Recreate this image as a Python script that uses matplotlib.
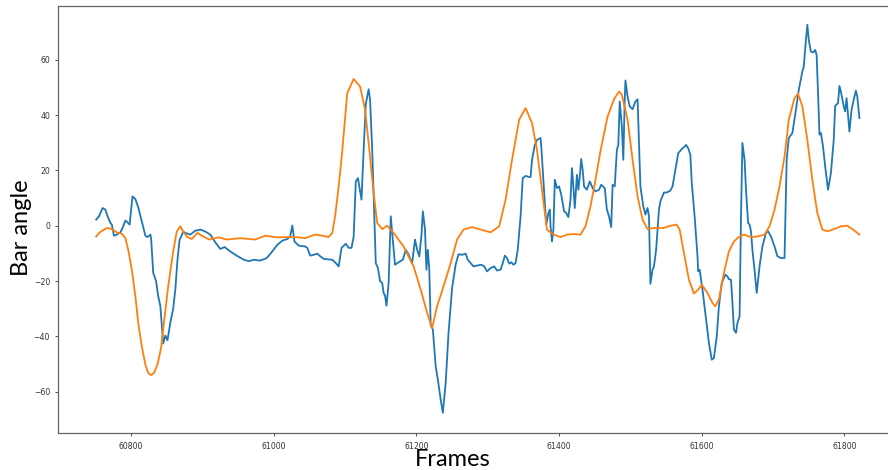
import numpy as np
import matplotlib.pyplot as plt

# raw bar angle (blue)
raw_frames = [60751, 60755, 60760, 60764, 60767, 60771, 60773, 60776, 60780, 60785,
              60788, 60792, 60795, 60798, 60800, 60802, 60806, 60810, 60815, 60820,
              60823, 60827, 60828, 60831, 60835, 60838, 60841, 60843, 60845, 60848,
              60851, 60855, 60859, 60862, 60865, 60868, 60870, 60873, 60876, 60883,
              60890, 60897, 60904, 60911, 60918, 60925, 60931, 60939, 60948, 60958,
              60965, 60972, 60981, 60990, 60997, 61005, 61012, 61019, 61023, 61026,
              61029, 61035, 61044, 61047, 61051, 61056, 61061, 61065, 61070, 61082,
              61087, 61091, 61095, 61101, 61105, 61109, 61112, 61115, 61118, 61121,
              61123, 61126, 61129, 61133, 61135, 61138, 61141, 61143, 61146, 61149,
              61152, 61154, 61156, 61158, 61161, 61164, 61166, 61170, 61175, 61181,
              61185, 61188, 61192, 61194, 61198, 61201, 61204, 61207, 61209, 61212,
              61214, 61216, 61218, 61220, 61223, 61227, 61230, 61234, 61237, 61241,
              61245, 61250, 61255, 61259, 61264, 61269, 61272, 61276, 61280, 61285,
              61291, 61295, 61299, 61304, 61309, 61313, 61318, 61321, 61324, 61327,
              61330, 61333, 61336, 61339, 61342, 61346, 61349, 61353, 61358, 61360,
              61362, 61366, 61369, 61374, 61375, 61377, 61380, 61382, 61385, 61387,
              61388, 61390, 61392, 61394, 61397, 61400, 61403, 61407, 61410, 61413,
              61416, 61418, 61420, 61422, 61425, 61427, 61429, 61431, 61433, 61435,
              61439, 61443, 61447, 61451, 61456, 61459, 61464, 61467, 61470, 61473,
              61475, 61478, 61481, 61483, 61485, 61488, 61490, 61492, 61493, 61496,
              61499, 61503, 61507, 61510, 61512, 61514, 61518, 61521, 61524, 61526,
              61528, 61531, 61533, 61536, 61540, 61542, 61547, 61551, 61556, 61559,
              61563, 61567, 61572, 61576, 61578, 61581, 61584, 61586, 61590, 61594,
              61595, 61597, 61601, 61606, 61610, 61614, 61617, 61621, 61624, 61628,
              61633, 61636, 61638, 61641, 61643, 61645, 61648, 61650, 61653, 61655,
              61657, 61660, 61662, 61665, 61667, 61669, 61671, 61674, 61677, 61681,
              61685, 61690, 61693, 61697, 61702, 61706, 61711, 61716, 61719, 61722,
              61727, 61732, 61736, 61741, 61743, 61746, 61748, 61750, 61753, 61756,
              61759, 61761, 61763, 61765, 61767, 61770, 61773, 61777, 61781, 61785,
              61787, 61791, 61793, 61795, 61799, 61801, 61803, 61807, 61810, 61813,
              61816, 61818, 61821]
raw_angle = [2.2, 3.4, 6.4, 5.8, 3.4, 1.0, 0.4, -3.6, -3.2, -2.4,
             -0.8, 1.9, 1.2, 0.4, 5.8, 10.6, 9.6, 6.7, 1.6, -3.6,
             -4.1, -3.2, -4.4, -17.0, -20.0, -25.5, -29.0, -36.0, -42.6, -39.7,
             -41.4, -35.0, -30.0, -23.0, -12.3, -5.0, -4.1, -2.1, -2.6, -3.2,
             -1.8, -1.4, -2.1, -3.2, -6.0, -8.4, -7.7, -9.3, -10.8, -12.3,
             -12.8, -12.3, -12.6, -11.7, -9.6, -6.9, -5.4, -4.8, -3.9, 0.1,
             -5.7, -7.2, -7.5, -8.0, -10.8, -10.5, -10.1, -11.0, -12.0, -12.3,
             -13.5, -14.7, -8.0, -6.5, -8.0, -8.0, -3.9, 16.0, 17.2, 12.4,
             9.4, 27.4, 44.0, 49.3, 45.5, 27.4, 3.4, -13.5, -15.3, -20.0,
             -20.7, -24.3, -25.3, -28.9, -20.7, 3.4, -2.6, -14.1, -13.2, -12.3,
             -8.7, -9.9, -12.3, -13.5, -5.0, -8.7, -11.1, -3.6, 5.2, -1.4,
             -15.9, -8.7, -15.9, -36.0, -37.5, -50.8, -55.6, -62.8, -67.6, -56.8,
             -38.7, -22.5, -14.0, -10.3, -10.5, -10.1, -12.3, -13.5, -14.7, -14.4,
             -14.1, -14.7, -16.5, -15.3, -14.7, -16.2, -15.9, -13.5, -10.8, -11.7,
             -13.7, -13.2, -14.1, -13.5, -8.7, 3.4, 17.2, 18.0, 17.6, 17.6,
             23.8, 29.2, 31.0, 31.7, 28.6, 20.2, 8.2, 0.4, 4.6, 5.8,
             -0.2, -5.7, -1.4, 16.6, 13.6, 14.2, 11.2, 5.2, 4.6, 3.1,
             9.4, 20.8, 14.2, 6.4, 18.4, 13.0, 17.8, 24.1, 20.2, 14.2,
             13.0, 16.0, 13.6, 12.4, 13.0, 14.8, 13.6, 5.8, 3.4, -0.5,
             14.8, 14.2, 27.4, 29.2, 44.9, 35.8, 23.8, 45.5, 52.5, 46.7,
             43.1, 42.1, 44.9, 45.7, 29.9, 14.2, 7.0, 4.0, 6.4, 3.4,
             -21.0, -15.9, -14.7, -8.7, 5.8, 8.8, 12.0, 12.0, 12.7, 14.2,
             20.2, 26.2, 27.7, 28.6, 29.2, 28.0, 25.6, 15.4, 3.4, -11.0,
             -16.5, -15.9, -23.1, -33.9, -42.3, -48.4, -47.8, -40.0, -29.1, -20.7,
             -17.7, -18.3, -19.3, -19.5, -27.9, -37.5, -38.7, -35.1, -32.7, 3.4,
             29.9, 23.8, 13.0, 1.0, 0.4, -2.0, -8.7, -16.0, -24.3, -14.7,
             -7.5, -2.6, -2.0, -3.9, -7.5, -11.0, -11.7, -11.7, 23.8, 31.7,
             33.5, 41.9, 49.1, 55.7, 57.5, 67.1, 72.6, 67.1, 62.9, 62.6,
             63.5, 61.7, 47.9, 32.9, 33.5, 28.6, 21.4, 13.0, 19.0, 31.0,
             43.3, 44.3, 50.5, 48.5, 43.1, 41.3, 46.1, 34.0, 41.9, 45.5,
             48.8, 46.7, 38.9]

# smoothed bar angle (orange)
smooth_frames = [60751, 60756, 60766, 60773, 60780, 60787, 60792, 60796, 60801, 60806,
                 60810, 60815, 60820, 60824, 60828, 60832, 60837, 60842, 60846, 60852,
                 60859, 60864, 60869, 60873, 60879, 60885, 60893, 60901, 60910, 60923,
                 60934, 60953, 60974, 60988, 61004, 61021, 61035, 61044, 61058, 61068,
                 61077, 61082, 61086, 61091, 61096, 61103, 61112, 61121, 61128, 61134,
                 61140, 61145, 61152, 61159, 61168, 61182, 61196, 61206, 61215, 61222,
                 61229, 61238, 61248, 61257, 61266, 61278, 61290, 61304, 61316, 61325,
                 61334, 61344, 61353, 61362, 61369, 61376, 61383, 61392, 61402, 61411,
                 61421, 61430, 61437, 61444, 61451, 61458, 61468, 61477, 61484, 61488,
                 61496, 61503, 61510, 61517, 61524, 61533, 61547, 61556, 61565, 61569,
                 61575, 61582, 61589, 61595, 61600, 61608, 61615, 61619, 61624, 61631,
                 61638, 61645, 61652, 61659, 61669, 61678, 61688, 61695, 61702, 61709,
                 61716, 61722, 61730, 61735, 61741, 61748, 61755, 61762, 61769, 61776,
                 61786, 61795, 61804, 61811, 61821]
smooth_angle = [-3.9, -2.4, -0.8, -1.2, -2.4, -2.9, -4.5, -8.7, -15.9, -25.5,
                -35.1, -43.6, -50.2, -53.2, -54.0, -53.2, -50.2, -44.2, -35.1, -21.9,
                -9.3, -2.1, -0.2, -2.1, -4.1, -4.8, -2.6, -3.9, -5.0, -4.2,
                -5.0, -4.5, -5.0, -3.6, -4.2, -4.1, -4.2, -4.5, -3.2, -3.6,
                -4.1, -2.6, 3.4, 14.2, 27.0, 47.9, 53.0, 50.3, 41.9, 27.4,
                11.8, 1.0, -1.2, 0.0, -2.6, -7.5, -14.7, -23.1, -31.5, -36.9,
                -29.1, -21.9, -13.5, -5.0, -1.4, -0.5, -1.4, -2.4, -0.2, 9.4,
                23.8, 38.3, 42.5, 37.1, 27.4, 13.0, -1.4, -3.2, -4.1, -3.2,
                -3.0, -3.2, -0.2, 7.0, 16.6, 27.0, 39.5, 45.7, 48.5, 47.3,
                38.3, 23.8, 10.6, 2.2, -1.2, -0.8, -0.8, 0.0, 0.4, -1.4,
                -9.9, -19.5, -24.5, -23.1, -21.3, -24.3, -27.9, -29.1, -26.7, -17.1,
                -9.3, -5.7, -4.1, -3.2, -4.1, -3.9, -3.2, -0.2, 5.8, 14.2,
                25.0, 38.3, 46.1, 47.7, 43.1, 31.0, 16.6, 4.6, -1.4, -2.0,
                -1.2, -0.2, 0.0, -1.2, -3.2]

fig = plt.figure(figsize=(8.88, 4.70), dpi=100)
ax = fig.add_axes([0.0657, 0.0781, 0.9479, 0.9098])

ax.plot(raw_frames, raw_angle, color='tab:blue', lw=1.3)
ax.plot(smooth_frames, smooth_angle, color='tab:orange', lw=1.3)

ax.set_xlim(60698, 61878)
ax.set_ylim(-75, 79.5)
ax.set_xticks(np.arange(60800, 61801, 200))
ax.set_yticks(np.arange(-60, 61, 20))
ax.tick_params(labelsize=5.6, length=2.5, width=0.6, colors='#333333')
for s in ax.spines.values():
    s.set_color('#666666')
    s.set_linewidth(0.9)

ax.set_xlabel('Frames', fontsize=17, family='Lato', ha='center', va='center')
ax.set_ylabel('Bar angle', fontsize=17, family='Lato', ha='center', va='center')
ax.xaxis.set_label_coords(0.469, -0.062)
ax.yaxis.set_label_coords(-0.0443, 0.48)

fig.savefig('out.png', dpi=100)
